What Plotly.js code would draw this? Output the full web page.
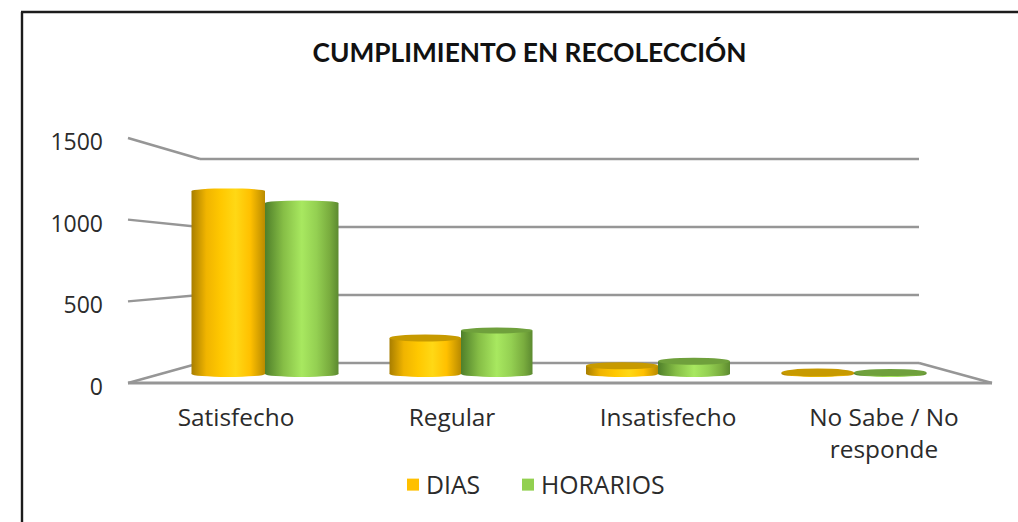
<!DOCTYPE html>
<html>
<head>
<meta charset="utf-8">
<script src="https://cdn.plot.ly/plotly-3.0.1.min.js"></script>
<style>html,body{margin:0;padding:0;background:#fff}#chart{width:1018px;height:522px}</style>
</head>
<body>
<div id="chart"></div>
<script>
// ---- data ----
const categories = ["Satisfecho", "Regular", "Insatisfecho", "No Sabe / No<br>responde"];
const dias = [1220, 240, 55, 10];
const horarios = [1140, 290, 85, 10];
const gridValues = [0, 500, 1000, 1500];

// ---- pseudo-3D projection settings ----
const W = 1018, H = 522;
const plot = {l: 128, r: 26, t: 138, b: 139};
const pxX = (W - plot.l - plot.r) / 4, pxY = (H - plot.t - plot.b) / 1500;
const wallLeft = 72 / pxX, wallRight = 4 - 73 / pxX;      // back wall, x units
const wallBase = 20 / pxY, wallScale = 68 / 500 / pxY;    // back wall, y mapping
const barScale = 0.15 / pxY, barBase = 9 / pxY;           // plane the cylinders stand on
const perspective = [29, 9, -10, -30];                    // px shift of each group
const barWidths = [73.5, 71.5, 72, 72.5].map(w => w / pxX);
const capRy = [[2.6, 2.4], [3.6, 3], [3.6, 3.6], [4, 3.6]];
const legendSwatchLeft = [407, 522];
const paperX = px => (px - plot.l) / (W - plot.l - plot.r);
const paperY = py => (H - plot.b - py) / (H - plot.t - plot.b);

const centers = categories.map((c, i) => i + 0.5 + perspective[i] / pxX);
const xDias = centers.map((c, i) => c - barWidths[i] / 2);
const xHor = centers.map((c, i) => c + barWidths[i] / 2);
const grey = "#969696";

const shapes = [];
const line = (x0, y0, x1, y1, w) => shapes.push({type: "line", xref: "paper", yref: "paper", layer: "below",
  x0: x0 / 4, y0: y0 / 1500, x1: x1 / 4, y1: y1 / 1500, line: {color: grey, width: w || 2.4}});
gridValues.forEach(v => {
  const by = wallBase + v * wallScale;
  line(0, v, wallLeft, by);
  line(wallLeft, by, wallRight, by);
});
line(0, 0, 4, 0, 2.8);
line(4, 0, wallRight, wallBase);

// frame of the picture
const frame = (x0, y0, x1, y1) => shapes.push({type: "line", xref: "paper", yref: "paper", layer: "above",
  x0: paperX(x0), x1: paperX(x1), y0: paperY(y0), y1: paperY(y1), line: {color: "#1c1c1c", width: 2.4}});
frame(21, 12, W, 12);
frame(22, 12, 22, H);

// cylinder ends
const ellipse = (cx, w, cy, ry, fill, layer) => shapes.push({type: "circle", xref: "x", yref: "y", layer,
  x0: cx - w / 2, x1: cx + w / 2, y0: cy - ry / pxY, y1: cy + ry / pxY, fillcolor: fill, line: {width: 0}});
[[xDias, dias, "#FFC000", "#C79A00", 0], [xHor, horarios, "#92D050", "#6FA03C", 1]].forEach(([xs, vals, col, dark, s]) => {
  xs.forEach((x, i) => {
    ellipse(x, barWidths[i], barBase, 3, col, "below");
    ellipse(x, barWidths[i], barBase + vals[i] * barScale, capRy[i][s], vals[i] > 500 ? col : dark, "above");
  });
});

const traces = [
  {type: "bar", name: "DIAS", x: xDias, y: dias.map(v => v * barScale), base: barBase, width: barWidths,
   marker: {color: "#FFC000"}, cliponaxis: false},
  {type: "bar", name: "HORARIOS", x: xHor, y: horarios.map(v => v * barScale), base: barBase, width: barWidths,
   marker: {color: "#92D050"}, cliponaxis: false}
];

const font = "'Open Sans', Lato, sans-serif";
const layout = {
  width: W, height: H, margin: plot, barmode: "overlay", paper_bgcolor: "#fff", plot_bgcolor: "rgba(0,0,0,0)",
  font: {family: font, size: 24, color: "#2b2b2b"}, showlegend: true,
  title: {text: "<b>CUMPLIMIENTO EN RECOLECCIÓN</b>", x: 529.5 / W, xanchor: "center", y: 1 - 53 / H, yanchor: "middle",
          font: {family: "Lato, sans-serif", size: 26.3, color: "#111"}},
  xaxis: {range: [0, 4], tickmode: "array", tickvals: [0.5, 1.5, 2.5, 3.5], ticktext: categories, showgrid: false,
          zeroline: false, showline: false, ticks: "", ticklabelstandoff: 18, tickfont: {size: 24.4}},
  yaxis: {range: [0, 1500], tickmode: "array", tickvals: gridValues, showgrid: false, zeroline: false, showline: false,
          ticks: "", ticklabelstandoff: 24, tickfont: {size: 23}},
  legend: {orientation: "h", x: paperX(537), xanchor: "center", y: paperY(462), yanchor: "top", font: {size: 24.8},
           bgcolor: "rgba(0,0,0,0)", itemwidth: 30},
  shapes
};

Plotly.newPlot("chart", traces, layout, {displayModeBar: false, staticPlot: true}).then(gd => {
  const svg = gd.querySelector(".main-svg");
  const defs = svg.querySelector("defs");
  const stops = [
    [["0", "#A87E00"], ["0.2", "#F0B400"], ["0.4", "#FFC800"], ["0.6", "#FFD815"], ["0.8", "#FFC000"], ["1", "#B98B00"]],
    [["0", "#4F7F2A"], ["0.25", "#86BE46"], ["0.5", "#A8E860"], ["0.7", "#94D052"], ["0.88", "#79AC3E"], ["1", "#5C8A30"]]
  ];
  stops.forEach((st, i) => {
    const g = document.createElementNS("http://www.w3.org/2000/svg", "linearGradient");
    g.id = "cyl" + i;
    st.forEach(([o, c]) => {
      const s = document.createElementNS("http://www.w3.org/2000/svg", "stop");
      s.setAttribute("offset", o); s.setAttribute("stop-color", c); g.appendChild(s);
    });
    defs.appendChild(g);
  });
  gd.querySelectorAll(".barlayer .trace").forEach((t, i) => {
    t.querySelectorAll("path").forEach(p => { p.style.fill = "url(#cyl" + i + ")"; });
  });
  gd.querySelectorAll(".shapelayer path").forEach(p => {
    const f = p.style.fill;
    if (f === "rgb(255, 192, 0)") p.style.fill = "url(#cyl0)";
    if (f === "rgb(146, 208, 80)") p.style.fill = "url(#cyl1)";
  });
  // vertical placement of the value labels
  gd.querySelectorAll(".ytick text").forEach(t => {
    t.setAttribute("transform", "translate(0,4) " + (t.getAttribute("transform") || ""));
  });
  // legend spacing: tighter swatch-to-text gap, swatches placed as in the reference
  gd.querySelectorAll(".legend .traces").forEach((g, i) => {
    const txt = g.querySelector(".legendtext");
    txt.setAttribute("x", parseFloat(txt.getAttribute("x")) - 7);
    const dx = legendSwatchLeft[i] - g.querySelector("path").getBoundingClientRect().left;
    g.setAttribute("transform", "translate(" + dx + ",0) " + (g.getAttribute("transform") || ""));
  });
});
</script>
</body>
</html>
